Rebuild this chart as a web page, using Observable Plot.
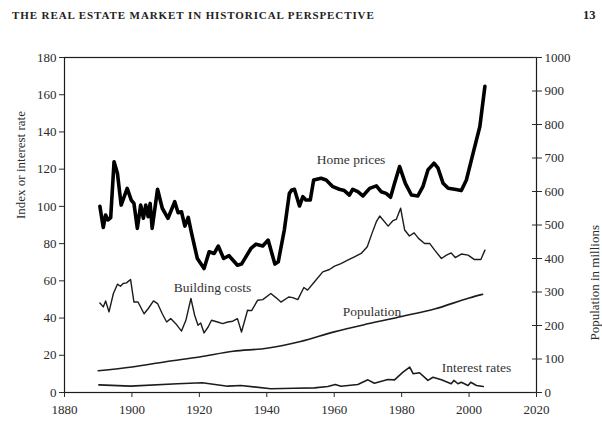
<!DOCTYPE html>
<html><head><meta charset="utf-8">
<script src="https://cdn.jsdelivr.net/npm/d3@7"></script>
<script src="https://cdn.jsdelivr.net/npm/@observablehq/plot@0.6"></script>
<style>
body{margin:0;background:#fff;font-family:"Liberation Serif",serif;}
#header{position:relative;height:30px;width:602px;}
#title{position:absolute;left:12px;top:9px;font-weight:bold;font-size:11px;letter-spacing:0.9px;color:#222;white-space:nowrap}
#page{position:absolute;left:583px;top:8px;font-weight:bold;font-size:12.5px;color:#222}
</style></head><body>
<div id="header"><span id="title">THE REAL ESTATE MARKET IN HISTORICAL PERSPECTIVE</span><span id="page">13</span></div>
<div id="chart"></div>
<script>
// Home prices (index)
const homeYears = [1890.5,1891.5,1892.2,1892.9,1893.7,1894.7,1895.7,1896.8,1898.6,1899.8,1900.6,1901.6,1902.6,1903.4,1904.1,1904.8,1905.4,1906,1907.6,1909,1910.7,1912.7,1913.7,1914.7,1915.7,1916.7,1917.7,1919.4,1921.4,1922.9,1924.4,1925.6,1927.2,1928.8,1931.3,1932.5,1933.8,1935.3,1936.8,1938.8,1940.4,1942.4,1943.4,1945.2,1946.7,1947.4,1948.2,1949.7,1950.7,1951.6,1952.9,1953.9,1956.1,1957.6,1959.6,1961.5,1963,1964.5,1965.5,1967,1968.5,1970.5,1972.5,1973.9,1975.4,1976.7,1977.9,1979.4,1981.1,1982.9,1984.8,1986.3,1987.8,1989.6,1990.8,1992.3,1993.8,1995.7,1997.7,1999.2,2001.2,2003.2,2004.7];
const homePrices = [100,88.7,95.4,92.7,94,124,117.8,100.7,109.7,103.4,101.6,88.2,100.7,93.6,100.7,94.5,101.6,88.2,109.2,99,93.6,102.5,96.6,97.1,89.4,94.1,85.5,72,66.6,75.6,74.7,78.7,72,73.5,68.4,69,72.9,77.4,79.7,78.7,81.9,69,70.2,87.3,107,108.8,109.2,100.2,105.2,103.4,103.4,114.2,115.1,114.2,110.6,109.2,108.5,106.1,109.2,107.9,105.6,109.7,111,107.9,107,104.9,112.4,121.4,112.4,106.1,105.6,110.6,119.6,123.2,120.5,112.4,109.7,109.2,108.5,114.2,128.6,142.9,164.5];

// Building costs (index)
const costYears = [1890.5,1891.5,1892.2,1893.2,1894.5,1895.7,1896.6,1897.4,1898.4,1899.1,1899.6,1900.6,1901.8,1903.6,1904.8,1906.4,1907.6,1909,1910.3,1911.5,1913,1914.7,1916,1917.5,1918.6,1919.6,1920.4,1921.4,1922.6,1923.6,1925.4,1926.9,1928.4,1929.9,1931.3,1932.5,1934.3,1935.5,1937.3,1938.8,1941.2,1942.7,1944.2,1946.5,1947.7,1949.2,1951,1952.1,1954.1,1956.6,1958.6,1960.1,1962,1964,1966,1968,1969.8,1971.2,1972.5,1973.5,1976,1977.4,1978.4,1979.7,1980.9,1982.3,1983.7,1985,1986.8,1988.3,1989.8,1991.8,1993.3,1994.7,1995.9,1997.7,1999.7,2001.5,2003.5,2004.7];
const buildingCosts = [48.1,46,49.2,43.3,53.2,58.2,57.1,58.6,58.9,60,60.7,48.6,48.6,42.3,45,49.2,47.8,42.3,37.9,39.7,37,33,38.8,50.5,41.5,36.1,37.3,32,35.2,38.8,37.9,37,37.9,38.3,39.7,32.5,44.2,44,49.6,49.9,53.2,51,48.6,51.3,51,49.9,56.4,55,59.4,64.8,66.1,67.9,69.3,71.1,72.9,74.7,78.3,85.5,91.8,94.8,89.4,92.3,93,99,87.3,84.1,85.8,82.8,80.1,80.1,76.5,72,73.8,75,72.5,74.4,73.8,71.5,71.5,76.5];

// Population (millions, right axis)
const popYears = [1890,1900,1910,1920,1930,1940,1950,1960,1970,1980,1990,2000,2004];
const population = [65,76,92,106,123,132,152,181,205,227,250,282,293];

// Interest rates (percent)
const rateYears = [1890.2,1899.6,1913.5,1920.9,1928.4,1932.3,1941.2,1948.2,1954.1,1958.1,1960.3,1962,1967,1970,1971.9,1975.9,1977.9,1980.4,1982.4,1983.4,1985.3,1987.8,1989.3,1991.8,1994.7,1995.5,1996.7,1997.7,1999.7,2000.5,2002.2,2004.2];
const interestRates = [4.1,3.4,4.7,5.2,3.4,3.8,2.0,2.3,2.5,3.2,4.3,3.4,4.3,6.8,5.0,7,6.8,10.9,13.6,10.1,10.6,6.5,8.2,6.8,4.7,6.5,4.7,5.5,3.8,5.5,3.8,3.2];

// Axis ticks
const xTicks = [1880,1900,1920,1940,1960,1980,2000,2020];
const leftTicks = [0,20,40,60,80,100,120,140,160,180];
const popTicks = [0,100,200,300,400,500,600,700,800,900,1000];

// Series labels
const labelText = ["Home prices","Building costs","Population","Interest rates"];
const labelYear = [1965,1923.9,1971.2,2002.2];
const labelValue = [125,56.5,43.6,13.5];

const popScale = 180/1000; // population (millions) drawn against left index axis
const zip = (xs, ys) => xs.map((x,i)=>({x, y: ys[i]}));
const home = zip(homeYears, homePrices);
const costs = zip(costYears, buildingCosts);
const pop = popYears.map((x,i)=>({x, y: population[i]*popScale}));
const rates = zip(rateYears, interestRates);
const labels = labelText.map((t,i)=>({text:t, x:labelYear[i], y:labelValue[i]}));
const ink = "#1c1c1c";

const chart = Plot.plot({
  width: 602, height: 392,
  marginLeft: 64, marginRight: 66, marginTop: 27, marginBottom: 30,
  style: {fontFamily: "'Liberation Serif', serif", fontSize: "13px", color: "#2a2a2a", background: "#fff"},
  x: {domain: [1880, 2020]},
  y: {domain: [0, 180]},
  marks: [
    Plot.frame({stroke: ink, strokeWidth: 1.2}),
    Plot.axisY(leftTicks, {anchor: "left", tickSize: 5, tickPadding: 3, label: null, fontSize: 13}),
    Plot.axisY(popTicks.map(p=>p*popScale), {anchor: "right", tickSize: 5, tickPadding: 3, label: null, fontSize: 13, tickFormat: d => String(Math.round(d/popScale))}),
    Plot.axisY(popTicks.map(p=>p*popScale), {anchor: "right", tickSize: 5, dx: -5, label: null, tickFormat: () => ""}),
    Plot.axisX(xTicks, {anchor: "bottom", tickSize: 5, tickPadding: 7, label: null, fontSize: 13, tickFormat: d => String(d)}),
    Plot.text(["Index or interest rate"], {frameAnchor: "left", rotate: -90, dx: -44, dy: -6, fontSize: 13, fill: "#2a2a2a"}),
    Plot.text(["Population in millions"], {frameAnchor: "right", rotate: -90, dx: 58, dy: 0, fontSize: 13, fill: "#2a2a2a"}),
    Plot.line(rates, {x: "x", y: "y", stroke: ink, strokeWidth: 1.6}),
    Plot.line(pop, {x: "x", y: "y", stroke: ink, strokeWidth: 1.6, curve: "monotone-x"}),
    Plot.line(costs, {x: "x", y: "y", stroke: ink, strokeWidth: 1.4}),
    Plot.line(home, {x: "x", y: "y", stroke: "#000", strokeWidth: 3.6, strokeLinejoin: "round"}),
    Plot.text(labels, {x: "x", y: "y", text: "text", fontSize: 13.5, fill: "#333"})
  ]
});
document.getElementById("chart").appendChild(chart);
</script>
</body></html>
